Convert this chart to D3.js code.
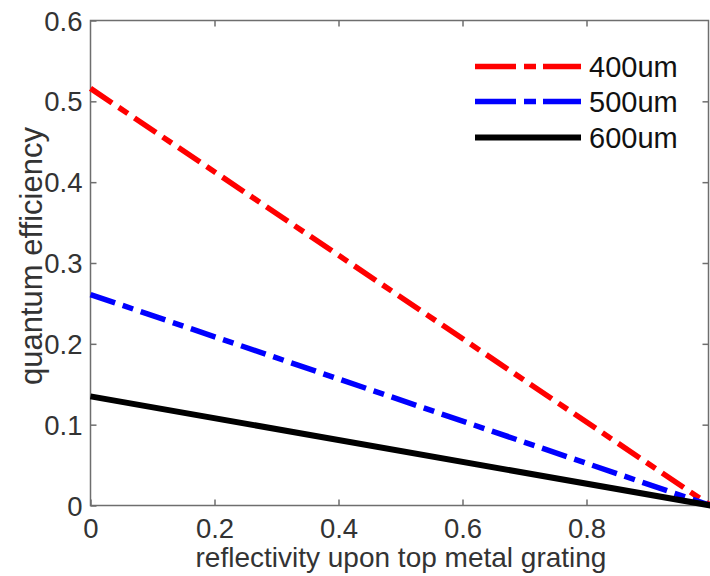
<!DOCTYPE html>
<html>
<head>
<meta charset="utf-8">
<script src="https://cdn.jsdelivr.net/npm/d3@7"></script>
<style>
  html, body { margin: 0; padding: 0; background: #fff; }
  svg { display: block; }
  text { font-family: "Liberation Sans", Arial, Helvetica, sans-serif; }
</style>
</head>
<body>
<svg id="chart" width="710" height="576"></svg>
<script>
// Quantum efficiency vs. reflectivity of the top metal grating
const reflectivity = [0, 1];
const qe400 = [0.516, 0];
const qe500 = [0.261, 0];
const qe600 = [0.135, 0];

const seriesNames = ["400um", "500um", "600um"];
const xTicks = [0, 0.2, 0.4, 0.6, 0.8];
const yTicks = [0, 0.1, 0.2, 0.3, 0.4, 0.5, 0.6];

const series = [
  { name: seriesNames[0], values: qe400, color: "#ff0000", dash: "26,8,11,8", width: 5.5 },
  { name: seriesNames[1], values: qe500, color: "#0000ff", dash: "26,8,11,8", width: 5.5 },
  { name: seriesNames[2], values: qe600, color: "#000000", dash: null, width: 6 }
];

const svg = d3.select("#chart");
const plotLeft = 90.5, plotRight = 710.5, plotTop = 20.5, plotBottom = 505.5;
const frameRight = 708.5;

const x = d3.scaleLinear().domain([0, 1]).range([plotLeft, plotRight]);
const y = d3.scaleLinear().domain([0, 0.6]).range([plotBottom, plotTop]);

const axisColor = "#6e6e6e";
const textColor = "#333333";
const fontSize = 27.5;

// frame
svg.append("rect")
  .attr("x", plotLeft).attr("y", plotTop)
  .attr("width", frameRight - plotLeft).attr("height", plotBottom - plotTop)
  .attr("fill", "none").attr("stroke", axisColor).attr("stroke-width", 1.5);

// inward ticks on all four sides
const xAxis = svg.append("g").attr("transform", `translate(0,${plotBottom})`)
  .call(d3.axisBottom(x).tickValues(xTicks).tickSize(-6).tickPadding(13)
    .tickFormat(d => d === 0 ? "0" : d3.format(".1f")(d)));
const xAxisTop = svg.append("g").attr("transform", `translate(0,${plotTop})`)
  .call(d3.axisTop(x).tickValues(xTicks.slice(1)).tickSize(-6).tickFormat(""));
const yAxis = svg.append("g").attr("transform", `translate(${plotLeft},0)`)
  .call(d3.axisLeft(y).tickValues(yTicks).tickSize(-6).tickPadding(8)
    .tickFormat(d => d === 0 ? "0" : d3.format(".1f")(d)));
const yAxisRight = svg.append("g").attr("transform", `translate(${frameRight},0)`)
  .call(d3.axisRight(y).tickValues(yTicks.slice(1, -1)).tickSize(-6).tickFormat(""));

[xAxis, xAxisTop, yAxis, yAxisRight].forEach(g => {
  g.select(".domain").remove();
  g.selectAll(".tick line").attr("stroke", axisColor).attr("stroke-width", 1.5);
  g.selectAll(".tick text")
    .attr("fill", textColor)
    .style("font-size", fontSize + "px")
    .style("font-family", '"Liberation Sans", Arial, sans-serif');
});
yAxis.selectAll(".tick text").attr("dy", "0.35em");
xAxis.selectAll(".tick text").attr("dy", "0.71em");

// data lines
const line = d3.line()
  .x((d, i) => x(reflectivity[i]))
  .y(d => y(d));

svg.append("g").selectAll("path")
  .data(series)
  .join("path")
  .attr("d", d => line(d.values))
  .attr("fill", "none")
  .attr("stroke", d => d.color)
  .attr("stroke-width", d => d.width)
  .attr("stroke-dasharray", d => d.dash)
  .attr("stroke-linecap", "butt");

// axis titles
svg.append("text")
  .attr("x", 401).attr("y", 567)
  .attr("text-anchor", "middle")
  .attr("fill", textColor)
  .style("font-size", "28px")
  .text("reflectivity upon top metal grating");

svg.append("text")
  .attr("transform", `translate(42,256) rotate(-90)`)
  .attr("text-anchor", "middle")
  .attr("fill", textColor)
  .style("font-size", "31px")
  .text("quantum efficiency");

// legend
const legend = svg.append("g");
const rows = [66.5, 101.5, 137.5];
series.forEach((s, i) => {
  legend.append("line")
    .attr("x1", 475).attr("x2", 581)
    .attr("y1", rows[i]).attr("y2", rows[i])
    .attr("stroke", s.color)
    .attr("stroke-width", s.width)
    .attr("stroke-dasharray", s.dash ? "41,8,12,7" : null);
  legend.append("text")
    .attr("x", 589).attr("y", rows[i])
    .attr("dy", "0.35em")
    .attr("fill", "#111")
    .style("font-size", "29px")
    .text(s.name);
});
</script>
</body>
</html>
